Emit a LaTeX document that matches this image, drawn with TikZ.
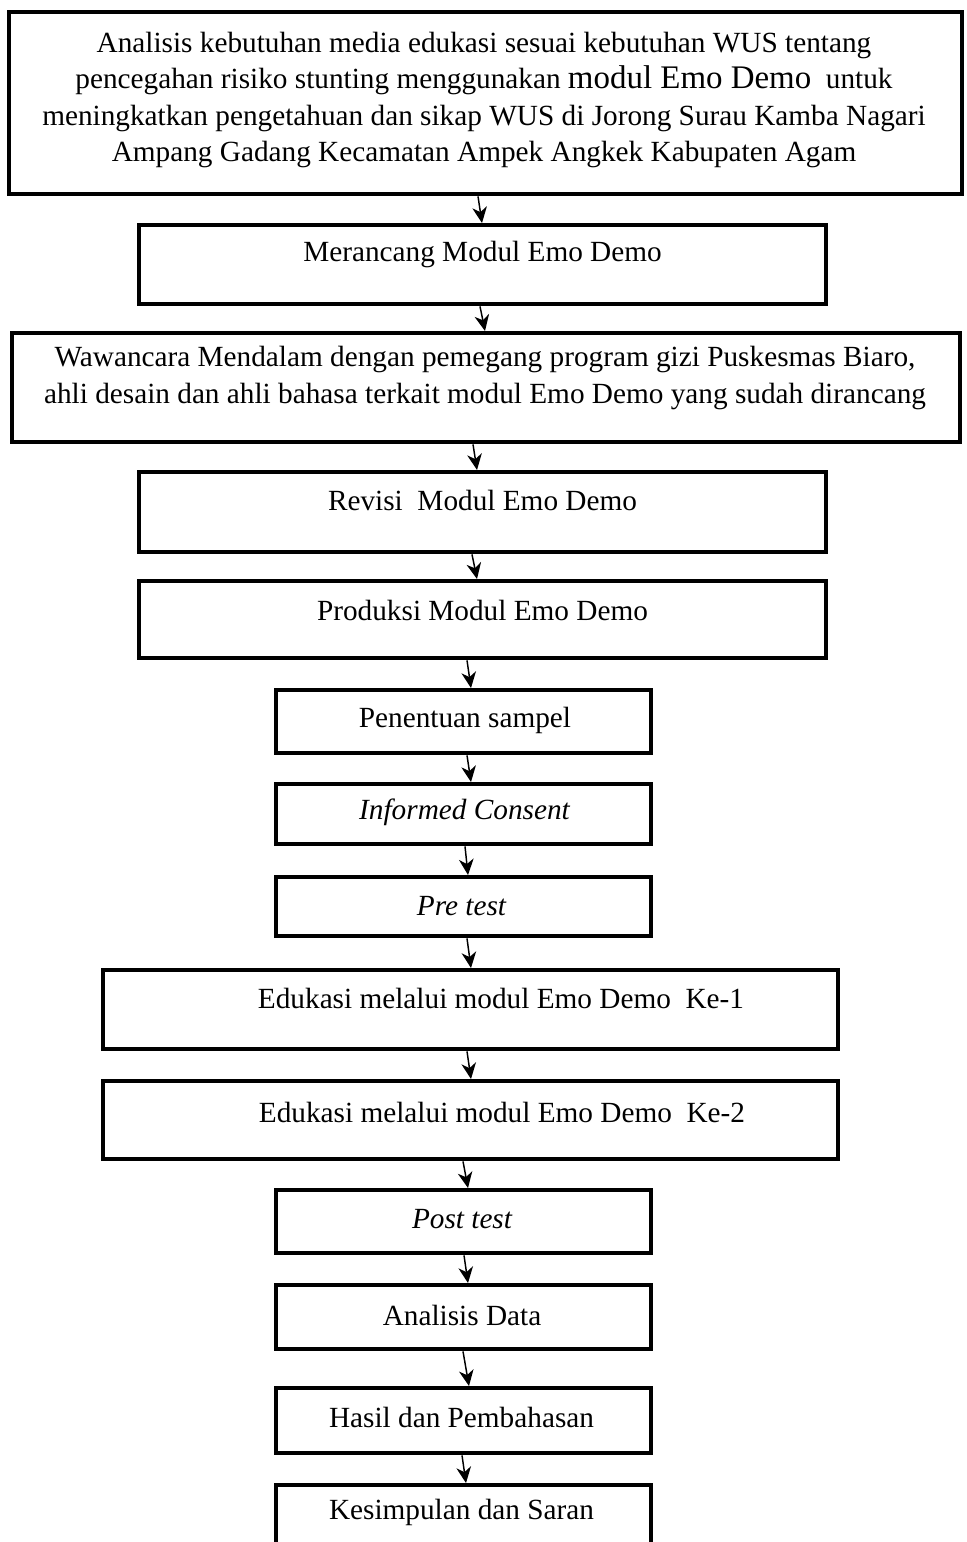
\documentclass[tikz,border=0pt]{standalone}
\usepackage{fontspec}
\setmainfont{Liberation Serif}
\usetikzlibrary{arrows.meta,calc}

\begin{document}
\begin{tikzpicture}[x=0.41pt, y=-0.41pt,
    box/.style 2 args={draw, line width=1.8pt, inner sep=0pt, anchor=north,
        minimum width=#1*0.41pt, minimum height=#2*0.41pt},
    txt/.style={align=center, inner sep=0pt, font=\fontsize{12}{15}\selectfont},
    arr/.style={-{Stealth[length=6.5pt,width=6pt,inset=2pt]}, line width=0.6pt}]
    \useasboundingbox (0,0) rectangle (967,1542);
    \clip (0,0) rectangle (967,1542);

    % Boxes
    \node[box={953}{182}] (b1) at (485.5,10) {};
    \node[box={687}{79}] (b2) at (482.5,223) {};
    \node[box={948}{109}] (b3) at (486,331) {};
    \node[box={687}{80}] (b4) at (482.5,470) {};
    \node[box={687}{77}] (b5) at (482.5,579) {};
    \node[box={375}{63}] (b6) at (463.5,688) {};
    \node[box={375}{60}] (b7) at (463.5,782) {};
    \node[box={375}{59}] (b8) at (463.5,875) {};
    \node[box={735}{79}] (b9) at (470.5,968) {};
    \node[box={735}{78}] (b10) at (470.5,1079) {};
    \node[box={375}{63}] (b11) at (463.5,1188) {};
    \node[box={375}{64}] (b12) at (463.5,1283) {};
    \node[box={375}{65}] (b13) at (463.5,1386) {};
    \node[box={375}{80}] (b14) at (463.5,1483) {};

    % Texts
    \node[txt] (t1) at (484,100) {Analisis kebutuhan media edukasi sesuai kebutuhan WUS tentang\\
        pencegahan risiko stunting menggunakan {\fontsize{13.5}{15}\selectfont modul Emo Demo}~ untuk\\
        meningkatkan pengetahuan dan sikap WUS di Jorong Surau Kamba Nagari\\
        Ampang Gadang Kecamatan Ampek Angkek Kabupaten Agam};
    \node[txt] (t2) at (482.5,255) {Merancang Modul Emo Demo};
    \node[txt] (t3) at (485,378) {Wawancara Mendalam dengan pemegang program gizi Puskesmas Biaro,\\
        ahli desain dan ahli bahasa terkait modul Emo Demo yang sudah dirancang};
    \node[txt] (t4) at (482.5,500) {Revisi~ Modul Emo Demo};
    \node[txt] (t5) at (482.5,610) {Produksi Modul Emo Demo};
    \node[txt] (t6) at (465,720) {Penentuan sampel};
    \node[txt] (t7) at (464.5,812) {\itshape Informed Consent};
    \node[txt] (t8) at (461.5,906) {\itshape Pre test};
    \node[txt] (t9) at (501,998) {Edukasi melalui modul Emo Demo~ Ke-1};
    \node[txt] (t10) at (502,1112) {Edukasi melalui modul Emo Demo~ Ke-2};
    \node[txt] (t11) at (462,1219) {\itshape Post test};
    \node[txt] (t12) at (462,1315) {Analisis Data};
    \node[txt] (t13) at (461.5,1417) {Hasil dan Pembahasan};
    \node[txt] (t14) at (461.5,1512) {Kesimpulan dan Saran};

    % Arrows
    \foreach \a/\b/\s/\e in {b1/b2/-7.5/-0.5, b2/b3/-2.5/-1, b3/b4/-13/-5.5,
        b4/b5/-10.5/-5.5, b5/b6/-15.5/7.5, b6/b7/3.5/7.5, b7/b8/1.5/4.5,
        b8/b9/3.5/0.5, b9/b10/-3.5/0.5, b10/b11/-7.5/4.5, b11/b12/0.5/4.5,
        b12/b13/-0.5/5.5, b13/b14/-1.5/2.5}
        \draw[arr] ($(\a.south)+(\s,0)$) -- ($(\b.north)+(\e,0)$);
\end{tikzpicture}
\end{document}
